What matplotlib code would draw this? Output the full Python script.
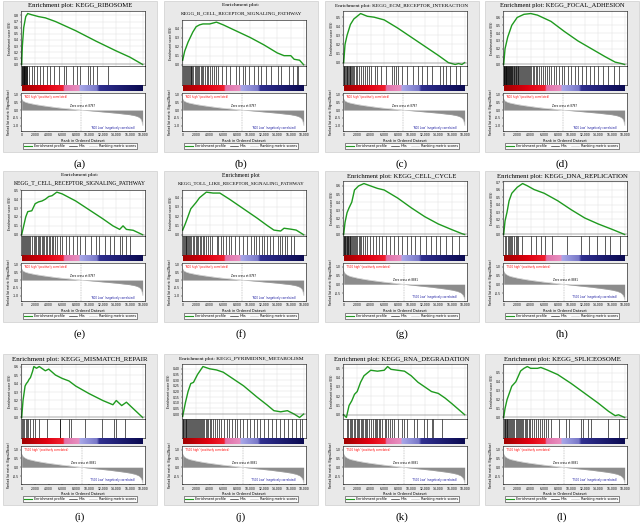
import matplotlib
matplotlib.use("Agg")
import matplotlib.pyplot as plt
import numpy as np
from matplotlib.colors import LinearSegmentedColormap
from matplotlib.patches import Rectangle
from matplotlib.lines import Line2D
from matplotlib.ticker import MultipleLocator, FormatStrFormatter

W, H = 641, 529

# ---- data ---------------------------------------------------------------
titles = [
    ["Enrichment plot: KEGG_RIBOSOME"],
    ["Enrichment plot:", "KEGG_B_CELL_RECEPTOR_SIGNALING_PATHWAY"],
    ["Enrichment plot: KEGG_ECM_RECEPTOR_INTERACTION"],
    ["Enrichment plot: KEGG_FOCAL_ADHESION"],
    ["Enrichment plot:", "KEGG_T_CELL_RECEPTOR_SIGNALING_PATHWAY"],
    ["Enrichment plot", "KEGG_TOLL_LIKE_RECEPTOR_SIGNALING_PATHWAY"],
    ["Enrichment plot: KEGG_CELL_CYCLE"],
    ["Enrichment plot: KEGG_DNA_REPLICATION"],
    ["Enrichment plot: KEGG_MISMATCH_REPAIR"],
    ["Enrichment plot: KEGG_PYRIMIDINE_METABOLISM"],
    ["Enrichment plot: KEGG_RNA_DEGRADATION"],
    ["Enrichment plot: KEGG_SPLICEOSOME"],
]
panel_labels = ["(a)", "(b)", "(c)", "(d)", "(e)", "(f)",
                "(g)", "(h)", "(i)", "(j)", "(k)", "(l)"]

es_a_rank = [0, 100, 300, 600, 900, 1500, 2500, 3500, 5000, 8000, 11000, 14000, 16000, 17900]
es_a_score = [0.0, 0.3, 0.6, 0.78, 0.83, 0.81, 0.78, 0.76, 0.7, 0.55, 0.38, 0.22, 0.12, 0.0]
es_b_rank = [0, 300, 800, 1500, 2000, 2500, 3000, 4000, 5000, 6000, 8000, 10000, 12000, 14000, 15000, 16000, 16500, 17300, 17900]
es_b_score = [0.05, 0.15, 0.25, 0.36, 0.42, 0.44, 0.45, 0.45, 0.47, 0.44, 0.37, 0.3, 0.22, 0.13, 0.1, 0.1, 0.06, 0.05, 0.0]
es_c_rank = [0, 200, 500, 1000, 1500, 2500, 3500, 4500, 6000, 8000, 10000, 12000, 14000, 15500, 16500, 17000, 17500, 17900]
es_c_score = [0.0, 0.2, 0.3, 0.42, 0.48, 0.54, 0.51, 0.5, 0.47, 0.38, 0.28, 0.18, 0.08, 0.0, -0.02, -0.01, -0.02, 0.0]
es_d_rank = [0, 200, 600, 1200, 2000, 3000, 4000, 5000, 7000, 9000, 11000, 13000, 15000, 16500, 17500, 17900]
es_d_score = [0.0, 0.2, 0.35, 0.5, 0.6, 0.64, 0.65, 0.63, 0.55, 0.42, 0.3, 0.2, 0.1, 0.03, 0.01, 0.0]
es_e_rank = [0, 300, 600, 900, 1500, 2000, 2500, 3000, 3500, 4000, 4500, 5200, 6000, 8000, 10000, 12000, 13500, 14500, 15000, 15500, 16500, 17900]
es_e_score = [0.0, 0.1, 0.2, 0.26, 0.27, 0.35, 0.37, 0.38, 0.4, 0.43, 0.44, 0.48, 0.46, 0.38, 0.28, 0.18, 0.1, 0.06, 0.1, 0.06, 0.05, 0.0]
es_f_rank = [0, 400, 800, 1200, 2000, 2500, 3000, 3500, 4500, 5500, 7000, 9000, 11000, 12500, 13500, 14500, 15000, 16000, 16800, 17900]
es_f_score = [0.05, 0.12, 0.2, 0.28, 0.35, 0.4, 0.43, 0.46, 0.45, 0.45, 0.38, 0.28, 0.18, 0.1, 0.05, 0.04, 0.07, 0.06, 0.05, 0.0]
es_g_rank = [0, 200, 500, 800, 1200, 1600, 2200, 3000, 4000, 5000, 6000, 8000, 10000, 12000, 14000, 16000, 17500, 17900]
es_g_score = [0.0, 0.15, 0.27, 0.33, 0.4, 0.55, 0.6, 0.63, 0.6, 0.57, 0.55, 0.45, 0.33, 0.22, 0.13, 0.06, 0.01, 0.0]
es_h_rank = [0, 200, 500, 800, 1200, 2000, 2800, 3500, 4500, 6000, 8000, 10000, 12000, 14000, 16000, 17900]
es_h_score = [0.0, 0.18, 0.3, 0.45, 0.55, 0.63, 0.68, 0.65, 0.6, 0.55, 0.45, 0.33, 0.22, 0.14, 0.07, 0.0]
es_i_rank = [0, 200, 500, 700, 900, 1100, 1300, 1600, 1800, 2200, 2600, 3500, 4000, 5000, 6000, 7000, 8000, 10000, 12000, 13500, 14000, 14800, 15500, 17900]
es_i_score = [0.0, 0.2, 0.37, 0.4, 0.42, 0.45, 0.47, 0.54, 0.6, 0.58, 0.6, 0.55, 0.57, 0.5, 0.46, 0.43, 0.37, 0.28, 0.2, 0.15, 0.2, 0.14, 0.18, 0.0]
es_j_rank = [0, 400, 800, 1200, 1600, 2200, 3000, 4000, 5000, 6000, 7000, 9000, 11000, 12500, 13500, 14500, 15500, 16500, 17300, 17900]
es_j_score = [-0.02, 0.1, 0.2, 0.27, 0.28, 0.35, 0.42, 0.4, 0.39, 0.37, 0.33, 0.25, 0.15, 0.08, 0.03, 0.02, 0.03, 0.0, -0.03, 0.0]
es_k_rank = [0, 400, 800, 1200, 1600, 2000, 2500, 3000, 3500, 4000, 5000, 6000, 6500, 7000, 8000, 9000, 10000, 11000, 12000, 13000, 14000, 15000, 16000, 17900]
es_k_score = [0.0, -0.03, 0.1, 0.15, 0.22, 0.25, 0.35, 0.42, 0.45, 0.48, 0.47, 0.48, 0.52, 0.49, 0.48, 0.47, 0.42, 0.35, 0.3, 0.25, 0.23, 0.18, 0.12, 0.0]
es_l_rank = [0, 200, 500, 1200, 1800, 2500, 3000, 3500, 4000, 5000, 5500, 6500, 8000, 10000, 12000, 14000, 15500, 16500, 17000, 17900]
es_l_score = [0.0, 0.1, 0.2, 0.35, 0.4, 0.52, 0.55, 0.57, 0.55, 0.55, 0.56, 0.53, 0.48, 0.38, 0.27, 0.16, 0.07, 0.02, 0.03, 0.0]

hits_a = [30, 90, 150, 210, 270, 330, 400, 470, 540, 610, 690, 770, 850, 1100, 1600, 1850, 2200,
          2700, 3200, 3700, 4200, 4750, 5500, 6300, 6600, 7600, 8250, 8650, 9750, 10100, 10600, 11100, 12800]
hits_b = [60, 200, 330, 480, 600, 750, 900, 1050, 1180, 1300, 1450, 1600, 1780, 1950, 2100, 2300, 2450,
          2650, 2850, 3050, 3300, 3550, 3800, 4050, 4300, 4600, 4900, 5300, 5800, 6400, 7000, 7900, 8400,
          8900, 9200, 9850, 10600, 11100, 11550, 12400, 13000, 14100, 14550, 15700, 16400, 16900, 17100]
hits_c = [40, 120, 220, 320, 420, 520, 640, 760, 880, 1000, 1150, 1300, 1450, 1600, 1800, 2000, 2250,
          2500, 2800, 3100, 3500, 3700, 4100, 4600, 5000, 5500, 6200, 7100, 7400, 7700, 8100, 8600, 9300,
          10200, 11000, 11600, 12300, 13000, 14200, 14700, 15200, 15700, 16600, 17200]
hits_d = [20, 70, 120, 170, 220, 280, 340, 400, 460, 520, 590, 660, 730, 800, 880, 960, 1040, 1120,
          1200, 1290, 1380, 1470, 1560, 1660, 1760, 1860, 1960, 2070, 2180, 2300, 2420, 2540, 2670, 2800,
          2950, 3100, 3250, 3400, 3550, 3700, 3900, 4100, 4300, 4500, 4750, 5000, 5250, 5500, 5800, 6100,
          6400, 6700, 7000, 7400, 7800, 8200, 8600, 9000, 9500, 10000, 10500, 11000, 11600, 12200, 12800,
          13400, 14000, 14700, 15400, 16300, 17000]
hits_e = [50, 150, 300, 450, 600, 750, 900, 1050, 1300, 1600, 1800, 1950, 2150, 2350, 2550, 2750, 2950,
          3150, 3350, 3550, 3800, 4000, 4200, 4450, 4700, 4950, 5200, 5600, 6000, 6500, 7000, 7600, 8200,
          8700, 9400, 10200, 11000, 11500, 12300, 13000, 13700, 14600, 14800, 15400, 16000]
hits_f = [40, 150, 280, 420, 560, 700, 850, 1000, 1150, 1300, 1500, 1700, 1900, 2100, 2300, 2500, 2700,
          2950, 3200, 3450, 3700, 4000, 4300, 5100, 5300, 5600, 6000, 6400, 6800, 7200, 7700, 8300, 8900,
          9500, 10100, 10500, 10900, 11300, 11700, 12100, 12500, 12900, 13300, 14100, 14400, 14700, 15100,
          15500, 16000, 16500]
hits_g = [30, 100, 180, 260, 340, 420, 500, 600, 700, 800, 900, 1000, 1100, 1250, 1400, 1550, 1700,
          1850, 2000, 2200, 2400, 2600, 2800, 3100, 3500, 3900, 4300, 4800, 5300, 5700, 6200, 6800, 7400,
          8000, 8600, 9300, 10000, 10600, 11300, 12200, 12900, 13600, 14300, 15200, 16100, 17000]
hits_h = [150, 350, 580, 720, 920, 1110, 1300, 1590, 1790, 2030, 2170, 2660, 4100, 4830, 5550, 6130,
          7100, 9320, 11500, 12560, 13860, 14980, 15700, 17150]
hits_i = [100, 250, 400, 600, 800, 1000, 1300, 1700, 1950, 2600, 3700, 5600, 5700, 7000, 7300, 9400,
          11900, 13700, 13900, 15300]
hits_j = [30, 120, 220, 330, 440, 560, 680, 800, 930, 1060, 1200, 1350, 1500, 1650, 1800, 1950, 2100,
          2250, 2400, 2550, 2700, 2850, 3000, 3200, 3400, 3600, 3800, 4000, 4250, 4500, 4800, 5100, 5400,
          5700, 6100, 6500, 6900, 7300, 7700, 8100, 8500, 9000, 9500, 10000, 10500, 11000, 11500, 12000,
          12600, 13200, 13800, 14400, 15000, 15600, 16200, 16800, 17300, 17700]
hits_k = [480, 700, 900, 1100, 1300, 1500, 1700, 1900, 2100, 2300, 2500, 2700, 2900, 3100, 3300, 3500,
          3700, 4000, 4300, 4600, 4800, 5000, 5200, 5400, 5700, 6100, 6300, 6600, 6900, 7200, 7500, 7970,
          8700, 8940, 9420, 10390, 10870, 11840, 12320, 13040, 13280, 14490]
hits_l = [50, 150, 250, 350, 450, 550, 700, 850, 1000, 1150, 1300, 1450, 1600, 1750, 1900, 2050, 2200,
          2350, 2500, 2700, 2900, 3100, 3300, 3500, 3700, 3900, 4200, 4500, 4800, 5100, 5400, 5700, 6000,
          6300, 6600, 7000, 8200, 9200, 9700, 11400, 11800, 12500, 12900, 15500, 17100]

es_tick_step = [0.1, 0.1, 0.1, 0.1, 0.1, 0.1, 0.1, 0.1, 0.1, 0.05, 0.1, 0.1]

# ranked list metric (two datasets)
metric_rank = [0, 200, 600, 1000, 2000, 3000, 4000, 5000, 6000, 7000, 8000, 8800, 10000, 11000,
               12000, 13000, 14000, 15000, 16000, 16800, 17300, 17600, 17800, 17900]
metric_1 = [0.72, 0.58, 0.5, 0.45, 0.36, 0.29, 0.23, 0.17, 0.12, 0.08, 0.03, 0.0, -0.04, -0.08,
            -0.12, -0.16, -0.2, -0.25, -0.3, -0.37, -0.45, -0.55, -0.75, -1.0]
metric_2 = [0.75, 0.6, 0.5, 0.44, 0.35, 0.28, 0.22, 0.17, 0.12, 0.08, 0.03, 0.0, -0.05, -0.09,
            -0.13, -0.17, -0.22, -0.27, -0.33, -0.4, -0.48, -0.58, -0.72, -0.9]
zero_cross = [8797, 8891]
pos_labels = ["'N00 high' (positively correlated)", "'T500 high' (positively correlated)"]
neg_labels = ["'N00 Low' (negatively correlated)", "'T500 Low' (negatively correlated)"]

# ---- layout ----------------------------------------------------------------
es_data = [(es_a_rank, es_a_score), (es_b_rank, es_b_score), (es_c_rank, es_c_score),
           (es_d_rank, es_d_score), (es_e_rank, es_e_score), (es_f_rank, es_f_score),
           (es_g_rank, es_g_score), (es_h_rank, es_h_score), (es_i_rank, es_i_score),
           (es_j_rank, es_j_score), (es_k_rank, es_k_score), (es_l_rank, es_l_score)]
hits_data = [hits_a, hits_b, hits_c, hits_d, hits_e, hits_f,
             hits_g, hits_h, hits_i, hits_j, hits_k, hits_l]
title_width = [107, 122, 135, 127, 135, 128, 112, 132, 138, 127, 137, 120]

COL_X = [3, 164, 325, 485]
ROW_Y = [1, 171, 354]
BOX_W, BOX_H = 154, 151
XMAX = 18250

cbar_cmap = LinearSegmentedColormap.from_list("gsea", [
    (0.0, "#a00000"), (0.2, "#e00010"), (0.34, "#f02030"), (0.35, "#e070a8"),
    (0.47, "#e890c0"), (0.48, "#a8a8e8"), (0.62, "#7878c8"), (0.64, "#303090"),
    (1.0, "#0a0a50")])

fig = plt.figure(figsize=(W / 100, H / 100), dpi=100)
fig.patch.set_facecolor("white")
renderer = fig.canvas.get_renderer()


def px_axes(x, y, w, h):
    return fig.add_axes([x / W, 1 - (y + h) / H, w / W, h / H])


def fit_text(x, y, s, width, **kw):
    t = fig.text(x / W, 1 - y / H, s, ha="center", va="center", fontsize=6,
                 family="Liberation Serif", **kw)
    t.set_fontsize(6 * width / t.get_window_extent(renderer).width)
    return t


SMALL = 2.2
for k in range(12):
    bx, by = COL_X[k % 4], ROW_Y[k // 4]
    ds = 0 if k < 6 else 1
    two = len(titles[k]) == 2
    fig.add_artist(Rectangle((bx / W, 1 - (by + BOX_H) / H), BOX_W / W, BOX_H / H,
                             transform=fig.transFigure, facecolor="#e9e9e9",
                             edgecolor="#cfcfcf", lw=0.5, zorder=-5))
    cx = bx + BOX_W / 2
    if two:
        fit_text(cx, by + 4, titles[k][0], 38)
        fit_text(cx, by + 12, titles[k][1], title_width[k])
    else:
        fit_text(cx, by + 5, titles[k][0], title_width[k])
    fig.text(cx / W, 1 - (by + 163) / H, panel_labels[k], ha="center", va="center",
             fontsize=8, family="Liberation Serif")

    ax_l, ax_w = bx + 18, 124
    es_top = by + (19 if two else 10)
    ax = px_axes(ax_l, es_top, ax_w, by + 65 - es_top)
    r, s = es_data[k]
    ax.plot(r, s, color="#1f9a1f", lw=1.0)
    rng = max(s) - min(s)
    ax.set_ylim(min(s) - 0.03 * rng, max(s) + 0.05 * rng)
    ax.set_xlim(-100, XMAX)
    ax.yaxis.set_major_locator(MultipleLocator(es_tick_step[k]))
    ax.yaxis.set_major_formatter(FormatStrFormatter("%.2f" if es_tick_step[k] < 0.1 else "%.1f"))
    ax.set_xticks(range(0, 18001, 2000))
    ax.tick_params(labelbottom=False, labelsize=SMALL, length=1, width=0.3, pad=0.8)
    ax.grid(color="#dcdcdc", lw=0.3)
    ax.axhline(0, color="#555555", lw=0.3)
    ax.set_ylabel("Enrichment score (ES)", fontsize=SMALL, labelpad=1)
    for sp in ax.spines.values():
        sp.set_linewidth(0.4)

    axh = px_axes(ax_l, by + 65, ax_w, 19)
    axh.vlines(hits_data[k], 0, 1, color="black", lw=0.45)
    axh.set_xlim(-100, XMAX)
    axh.set_ylim(0, 1)
    axh.set_xticks([])
    axh.set_yticks([])
    for sp in axh.spines.values():
        sp.set_linewidth(0.4)

    axc = px_axes(ax_l, by + 84, ax_w, 6)
    axc.imshow(np.linspace(0, 1, 256)[None, :], aspect="auto", cmap=cbar_cmap,
               extent=(0, 17900, 0, 1))
    axc.set_xlim(-100, XMAX)
    axc.axis("off")

    axm = px_axes(ax_l, by + 92, ax_w, 38)
    mv = metric_1 if ds == 0 else metric_2
    axm.fill_between(metric_rank, mv, 0, color="#8c8c8c", lw=0)
    axm.plot(metric_rank, mv, color="#b0b0b0", lw=0.3)
    axm.set_xlim(-100, XMAX)
    axm.set_ylim((-1.35, 1.1) if ds == 0 else (-0.95, 1.2))
    axm.set_yticks([1.0, 0.5, 0.0, -0.5, -1.0] if ds == 0 else [1.0, 0.5, 0.0, -0.5])
    axm.yaxis.set_major_formatter(FormatStrFormatter("%.1f"))
    axm.set_xticks(range(0, 18001, 2000))
    axm.set_xticklabels([f"{v:,}" for v in range(0, 18001, 2000)])
    axm.tick_params(labelsize=SMALL, length=1, width=0.3, pad=0.8)
    axm.axvline(zero_cross[ds], color="#777777", lw=0.3, ls=(0, (2, 2)))
    axm.text(zero_cross[ds] + 200, 0.25, f"Zero cross at {zero_cross[ds]}",
             fontsize=1.9, ha="center", va="center")
    axm.text(300, axm.get_ylim()[1] - 0.12, pos_labels[ds], color="red",
             fontsize=1.9, ha="left", va="top")
    axm.text(13500, axm.get_ylim()[0] + 0.2, neg_labels[ds], color="#1a1aa0",
             fontsize=1.9, ha="center", va="center")
    axm.set_xlabel("Rank in Ordered Dataset", fontsize=SMALL + 0.3, labelpad=1)
    axm.set_ylabel("Ranked list metric (Signal2Noise)", fontsize=SMALL - 0.2, labelpad=1)
    for sp in axm.spines.values():
        sp.set_linewidth(0.4)

    handles = [Line2D([], [], color="#1f9a1f", lw=0.8),
               Line2D([], [], color="black", lw=0.4),
               Line2D([], [], color="#bbbbbb", lw=0.4)]
    leg = fig.legend(handles, ["Enrichment profile", "Hits", "Ranking metric scores"],
                     loc="center", bbox_to_anchor=((bx + 77) / W, 1 - (by + 145) / H),
                     ncol=3, fontsize=2.4, frameon=True, fancybox=False,
                     handlelength=2.5, columnspacing=1.2, borderpad=0.4, handletextpad=0.4)
    leg.get_frame().set_edgecolor("black")
    leg.get_frame().set_linewidth(0.4)

fig.savefig("out.png", dpi=100)
